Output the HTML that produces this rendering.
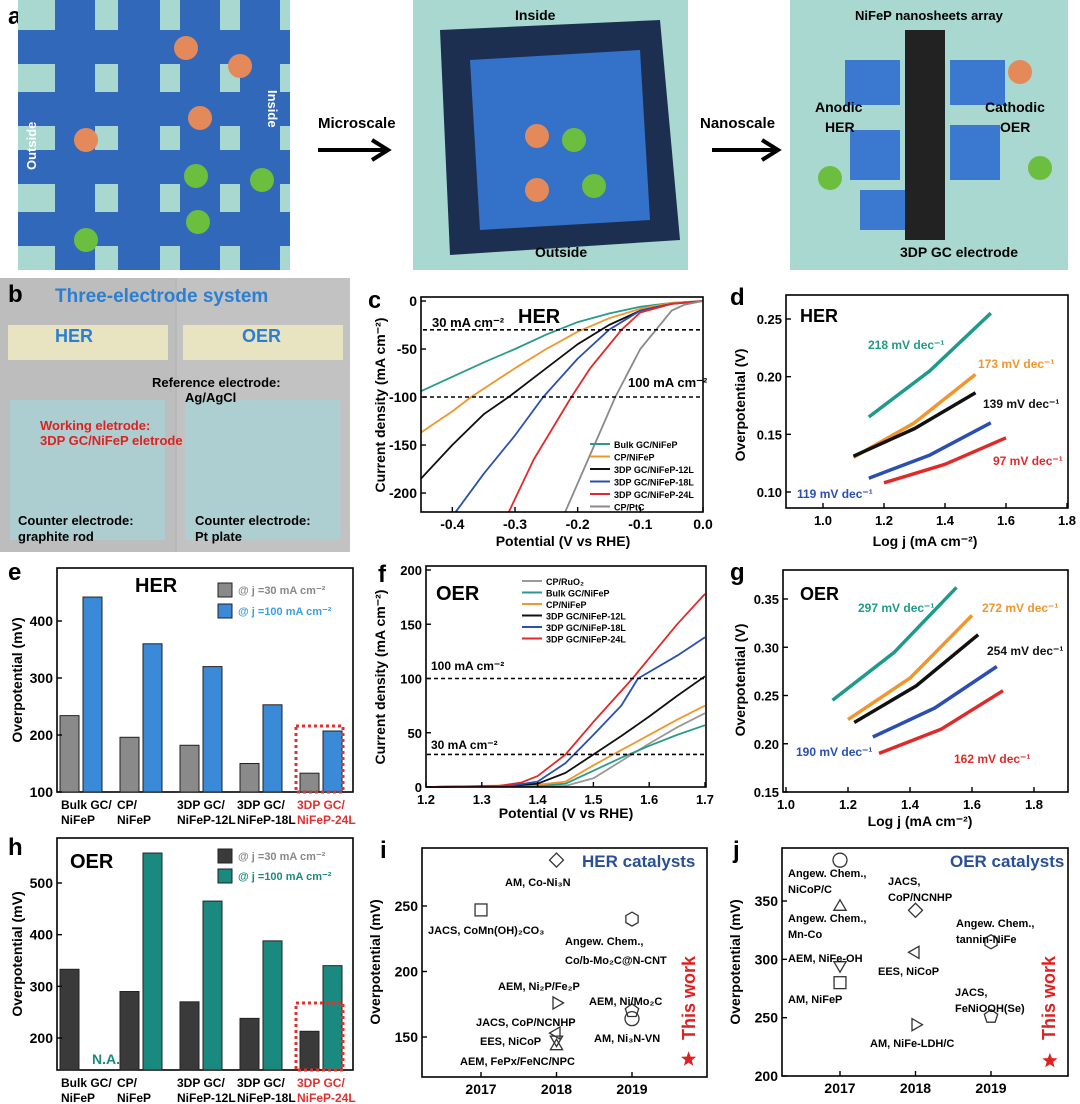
<!DOCTYPE html>
<html><head><meta charset="utf-8"><style>
html,body{margin:0;padding:0;background:#fff;}
svg{display:block;font-family:"Liberation Sans",sans-serif;font-weight:bold;}
</style></head><body>
<svg id="fig" width="1080" height="1104" viewBox="0 0 1080 1104" xmlns="http://www.w3.org/2000/svg">
<g>
 <text x="8" y="24" font-size="24">a</text>
 <rect x="18" y="0" width="272" height="270" fill="#a8d8cf"/>
 <g fill="#2b63b8" opacity="0.95">
  <rect x="55" y="0" width="40" height="270"/><rect x="118" y="0" width="42" height="270"/><rect x="180" y="0" width="40" height="270"/><rect x="240" y="0" width="40" height="270"/>
  <rect x="18" y="30" width="272" height="34"/><rect x="18" y="92" width="272" height="34"/><rect x="18" y="150" width="272" height="34"/><rect x="18" y="212" width="272" height="34"/>
 </g>
 <g fill="#e48a5a"><circle cx="186" cy="48" r="12"/><circle cx="240" cy="66" r="12"/><circle cx="200" cy="118" r="12"/><circle cx="86" cy="140" r="12"/></g>
 <g fill="#6cbf3e"><circle cx="196" cy="176" r="12"/><circle cx="262" cy="180" r="12"/><circle cx="198" cy="222" r="12"/><circle cx="86" cy="240" r="12"/></g>
 <text x="36" y="170" font-size="13" fill="#fff" transform="rotate(-90 36 170)">Outside</text>
 <text x="268" y="90" font-size="13" fill="#fff" transform="rotate(90 268 90)">Inside</text>
 <text x="318" y="128" font-size="15">Microscale</text>
 <path d="M318 150 H385 M372 140 L388 150 L372 160" stroke="#000" stroke-width="4" fill="none"/>
 <rect x="413" y="0" width="275" height="270" fill="#a8d8cf"/>
 <polygon points="440,30 660,20 680,240 450,255" fill="#1c2f50"/>
 <polygon points="470,60 640,50 650,220 480,230" fill="#3471c9"/>
 <text x="515" y="20" font-size="14">Inside</text><text x="535" y="257" font-size="14">Outside</text>
 <circle cx="537" cy="136" r="12" fill="#e48a5a"/><circle cx="537" cy="190" r="12" fill="#e48a5a"/><circle cx="574" cy="140" r="12" fill="#6cbf3e"/><circle cx="594" cy="186" r="12" fill="#6cbf3e"/>
 <text x="700" y="128" font-size="15">Nanoscale</text>
 <path d="M712 150 H775 M762 140 L778 150 L762 160" stroke="#000" stroke-width="4" fill="none"/>
 <rect x="790" y="0" width="278" height="270" fill="#a8d8cf"/>
 <rect x="905" y="30" width="40" height="210" fill="#222"/>
 <g fill="#3b78cf"><rect x="845" y="60" width="55" height="45"/><rect x="950" y="60" width="55" height="45"/><rect x="850" y="130" width="50" height="50"/><rect x="950" y="125" width="50" height="55"/><rect x="860" y="190" width="45" height="40"/></g>
 <text x="855" y="20" font-size="13">NiFeP nanosheets array</text>
 <text x="815" y="112" font-size="14">Anodic</text><text x="825" y="132" font-size="14">HER</text>
 <text x="985" y="112" font-size="14">Cathodic</text><text x="1000" y="132" font-size="14">OER</text>
 <circle cx="1020" cy="72" r="12" fill="#e48a5a"/><circle cx="830" cy="178" r="12" fill="#6cbf3e"/><circle cx="1040" cy="168" r="12" fill="#6cbf3e"/>
 <text x="900" y="257" font-size="14">3DP GC electrode</text>
</g>
<g>
 <rect x="0" y="278" width="350" height="274" fill="#b8b8b8"/>
 <rect x="0" y="278" width="175" height="274" fill="#bdbdbd"/><rect x="177" y="278" width="173" height="274" fill="#c2c2c2"/>
 <rect x="8" y="325" width="160" height="35" fill="#e8e3c0"/><rect x="183" y="325" width="160" height="35" fill="#e8e3c0"/>
 <rect x="10" y="400" width="155" height="140" fill="#a8d2d4" opacity="0.8"/><rect x="185" y="400" width="155" height="140" fill="#a8d2d4" opacity="0.8"/>
 <text x="8" y="302" font-size="24" fill="#000">b</text>
 <text x="55" y="302" font-size="19" fill="#2a7fd2">Three-electrode system</text>
 <text x="55" y="342" font-size="18" fill="#2a7fd2">HER</text><text x="242" y="342" font-size="18" fill="#2a7fd2">OER</text>
 <text x="152" y="387" font-size="13">Reference electrode:</text><text x="185" y="402" font-size="13">Ag/AgCl</text>
 <text x="40" y="430" font-size="13" fill="#e02020">Working eletrode:</text><text x="40" y="445" font-size="13" fill="#e02020">3DP GC/NiFeP eletrode</text>
 <text x="18" y="525" font-size="13">Counter electrode:</text><text x="18" y="541" font-size="13">graphite rod</text>
 <text x="195" y="525" font-size="13">Counter electrode:</text><text x="195" y="541" font-size="13">Pt plate</text>
</g>
<g id="charts"></g>
</svg>
<script>
// ---------- data ----------
const herCSeries = ['Bulk GC/NiFeP','CP/NiFeP','3DP GC/NiFeP-12L','3DP GC/NiFeP-18L','3DP GC/NiFeP-24L','CP/PtC'];
const herCColors = ['#2a9a8a','#f0962d','#111111','#2a4fb0','#e02a2a','#8a8a8a'];
const herCPot = [
 [-0.45,-0.4,-0.35,-0.3,-0.25,-0.2,-0.15,-0.1,-0.05,0],
 [-0.45,-0.4,-0.37,-0.3,-0.25,-0.2,-0.15,-0.1,-0.05,0],
 [-0.45,-0.4,-0.35,-0.31,-0.25,-0.2,-0.15,-0.1,-0.05,0],
 [-0.395,-0.35,-0.3,-0.255,-0.2,-0.15,-0.1,-0.05,0],
 [-0.31,-0.27,-0.21,-0.18,-0.155,-0.13,-0.1,-0.05,0],
 [-0.22,-0.18,-0.14,-0.1,-0.075,-0.05,-0.03,0]];
const herCCur = [
 [-94,-79,-64,-50,-35,-22,-13,-6,-2,0],
 [-137,-115,-100,-70,-50,-32,-18,-8,-2,0],
 [-185,-150,-118,-100,-70,-45,-25,-10,-3,0],
 [-220,-180,-140,-100,-60,-30,-10,-3,0],
 [-220,-165,-100,-70,-50,-30,-12,-3,0],
 [-220,-160,-100,-50,-30,-10,-4,0]];
const herTafelLabels = ['218 mV dec⁻¹','173 mV dec⁻¹','139 mV dec⁻¹','119 mV dec⁻¹','97 mV dec⁻¹'];
const herTafelX = [[1.15,1.35,1.55],[1.1,1.3,1.5],[1.1,1.3,1.5],[1.15,1.35,1.55],[1.2,1.4,1.6]];
const herTafelY = [[0.165,0.205,0.255],[0.13,0.16,0.202],[0.131,0.155,0.186],[0.112,0.132,0.16],[0.108,0.124,0.147]];
const tafelColors = ['#1f9a8a','#f0962d','#111111','#2a4fb0','#e02a2a'];
const barCats = [['Bulk GC/','NiFeP'],['CP/','NiFeP'],['3DP GC/','NiFeP-12L'],['3DP GC/','NiFeP-18L'],['3DP GC/','NiFeP-24L']];
const herBar30 = [234,196,182,150,133];
const herBar100 = [442,360,320,253,207];
const oerBar30 = [333,290,270,238,213];
const oerBar100 = [null,558,465,388,340];
const oerFSeries = ['CP/RuO₂','Bulk GC/NiFeP','CP/NiFeP','3DP GC/NiFeP-12L','3DP GC/NiFeP-18L','3DP GC/NiFeP-24L'];
const oerFColors = ['#999999','#2a9a8a','#f0962d','#111111','#2a4fb0','#e02a2a'];
const oerFPot = [
 [1.2,1.4,1.45,1.5,1.55,1.6,1.65,1.7],
 [1.2,1.4,1.45,1.5,1.55,1.6,1.65,1.7],
 [1.2,1.4,1.45,1.5,1.55,1.6,1.65,1.7],
 [1.2,1.35,1.4,1.45,1.5,1.55,1.6,1.65,1.7],
 [1.2,1.35,1.4,1.45,1.5,1.55,1.58,1.65,1.7],
 [1.2,1.33,1.37,1.4,1.45,1.5,1.57,1.65,1.7]];
const oerFCur = [
 [0,0.5,1,8,24,40,55,68],
 [0,1,3,15,27,38,48,57],
 [0,2,5,20,34,48,62,75],
 [0,1,3,13,30,47,65,84,102],
 [0,1,5,22,48,75,100,121,138],
 [0,1,4,10,30,60,100,150,178]];
const oerTafelLabels = ['297 mV dec⁻¹','272 mV dec⁻¹','254 mV dec⁻¹','190 mV dec⁻¹','162 mV dec⁻¹'];
const oerTafelX = [[1.15,1.35,1.55],[1.2,1.4,1.6],[1.22,1.42,1.62],[1.28,1.48,1.68],[1.3,1.5,1.7]];
const oerTafelY = [[0.245,0.295,0.362],[0.225,0.268,0.333],[0.222,0.26,0.313],[0.207,0.237,0.28],[0.19,0.215,0.255]];
const herRefYear = [2018,2017,2019,2018,2019,2019,2018,2018,2018];
const herRefEta = [285,247,240,176,170,164,153,148,143];
const herRefShape = ['diamond','square','hexagon','right','pentagon','circle','left','down','up'];
const oerRefYear = [2017,2017,2017,2017,2018,2018,2018,2019,2019];
const oerRefEta = [385,345,295,280,342,306,244,315,251];
const oerRefShape = ['circle','up','down','square','diamond','left','right','hexagon','pentagon'];
const herThisWork = 133, oerThisWork = 213;

// ---------- helpers ----------
const NS='http://www.w3.org/2000/svg';
const root=document.getElementById('charts');
function mk(tag,attrs,parent,txt){const e=document.createElementNS(NS,tag);for(const k in attrs)e.setAttribute(k,attrs[k]);if(txt!==undefined)e.textContent=txt;(parent||root).appendChild(e);return e;}
function lin(d0,d1,r0,r1){return v=>r0+(v-d0)*(r1-r0)/(d1-d0);}
function frame(x0,y0,x1,y1,name){const r=mk('rect',{x:x0,y:y0,width:x1-x0,height:y1-y0,fill:'none',stroke:'#000','stroke-width':1.6});

}
function xticks(sx,vals,labels,y,fs){vals.forEach((v,i)=>{mk('line',{x1:sx(v),x2:sx(v),y1:y,y2:y-5,stroke:'#000','stroke-width':1.4});
const t=mk('text',{x:sx(v),y:y+17,'font-size':fs||14,'text-anchor':'middle'},root,labels[i]);

});}
function yticks(sy,vals,labels,x,fs){vals.forEach((v,i)=>{mk('line',{x1:x,x2:x+5,y1:sy(v),y2:sy(v),stroke:'#000','stroke-width':1.4});
const t=mk('text',{x:x-4,y:sy(v)+5,'font-size':fs||14,'text-anchor':'end'},root,labels[i]);

});}
function ytitle(x,yc,txt,name){const t=mk('text',{x:x,y:yc,'font-size':14,'text-anchor':'middle',transform:`rotate(-90 ${x} ${yc})`},root,txt);

}
function xtitle(xc,y,txt,name){const t=mk('text',{x:xc,y:y,'font-size':14,'text-anchor':'middle'},root,txt);

}
function label(x,y,txt,fs,fill,name){const t=mk('text',{x:x,y:y,'font-size':fs,fill:fill||'#000'},root,txt);

return t;}
function poly(xs,ys,sx,sy,color,w,name){const pts=xs.map((x,i)=>sx(x).toFixed(1)+','+sy(ys[i]).toFixed(1)).join(' ');
const p=mk('polyline',{points:pts,fill:'none',stroke:color,'stroke-width':w||1.8,'stroke-linejoin':'round'});

}
function dash(x0,x1,y){mk('line',{x1:x0,x2:x1,y1:y,y2:y,stroke:'#000','stroke-width':1.6,'stroke-dasharray':'4,3'});}
function marker(shape,cx,cy,r){const a={fill:'none',stroke:'#333','stroke-width':1.3};let e;
const pg=(n,rot)=>{let p=[];for(let k=0;k<n;k++){const t=rot+k*2*Math.PI/n;p.push((cx+r*Math.cos(t)).toFixed(1)+','+(cy+r*Math.sin(t)).toFixed(1));}return p.join(' ');};
if(shape==='circle')e=mk('circle',Object.assign({cx,cy,r},a));
else if(shape==='square')e=mk('rect',Object.assign({x:cx-r*0.85,y:cy-r*0.85,width:r*1.7,height:r*1.7},a));
else if(shape==='diamond')e=mk('polygon',Object.assign({points:pg(4,0)},a));
else if(shape==='hexagon')e=mk('polygon',Object.assign({points:pg(6,Math.PI/6)},a));
else if(shape==='pentagon')e=mk('polygon',Object.assign({points:pg(5,-Math.PI/2)},a));
else if(shape==='up')e=mk('polygon',Object.assign({points:pg(3,-Math.PI/2)},a));
else if(shape==='down')e=mk('polygon',Object.assign({points:pg(3,Math.PI/2)},a));
else if(shape==='left')e=mk('polygon',Object.assign({points:pg(3,Math.PI)},a));
else e=mk('polygon',Object.assign({points:pg(3,0)},a));

}
function star(cx,cy,r){let p=[];for(let k=0;k<10;k++){const rr=k%2?r*0.42:r;const t=-Math.PI/2+k*Math.PI/5;p.push((cx+rr*Math.cos(t)).toFixed(1)+','+(cy+rr*Math.sin(t)).toFixed(1));}
const e=mk('polygon',{points:p.join(' '),fill:'#e02020'});

}

// ---------- panel c ----------
{const sx=lin(-0.45,0,421,703),sy=lin(0,-200,301,493);
label(368,308,'c',24,'#000','panel-label-c');
herCSeries.forEach((s,i)=>poly(herCPot[i],herCCur[i],sx,sy,herCColors[i],1.8,'her-lsv-curve'));
mk('rect',{x:380,y:513,width:340,height:20,fill:'#fff'});mk('rect',{x:380,y:280,width:40,height:260,fill:'#fff'});
dash(423,703,sy(-30));dash(423,703,sy(-100));
frame(421,297,703,512,'plot-frame-c');
xticks(sx,[-0.4,-0.3,-0.2,-0.1,0],['-0.4','-0.3','-0.2','-0.1','0.0'],512);
yticks(sy,[0,-50,-100,-150,-200],['0','-50','-100','-150','-200'],421);
label(432,327,'30 mA cm⁻²',13,'#000','threshold-30-label');label(518,323,'HER',20,'#000','chart-title-c');
label(628,387,'100 mA cm⁻²',13,'#000','threshold-100-label');
xtitle(563,546,'Potential (V vs RHE)','x-axis-title-c');ytitle(385,405,'Current density (mA cm⁻²)','y-axis-title-c');
herCSeries.forEach((s,i)=>{const y=444+i*12.5;mk('line',{x1:590,x2:610,y1:y,y2:y,stroke:herCColors[i],'stroke-width':2});
label(614,y+4,s,9,'#000','legend-entry-c');});}

// ---------- panel d ----------
{const sx=lin(1.0,1.8,823,1067),sy=lin(0.25,0.10,319,492);
label(730,305,'d',24,'#000','panel-label-d');
frame(786,295,1068,508,'plot-frame-d');
herTafelX.forEach((xs,i)=>poly(xs,herTafelY[i],sx,sy,tafelColors[i],3.5,'her-tafel-line'));
xticks(sx,[1.0,1.2,1.4,1.6,1.8],['1.0','1.2','1.4','1.6','1.8'],508,13);
yticks(sy,[0.25,0.20,0.15,0.10],['0.25','0.20','0.15','0.10'],786,13);
label(800,322,'HER',18,'#000','chart-title-d');
const pos=[[868,349],[978,368],[983,408],[797,498],[993,465]];
herTafelLabels.forEach((t,i)=>label(pos[i][0],pos[i][1],t,12,tafelColors[i],'tafel-slope-label'));
xtitle(925,546,'Log j (mA cm⁻²)','x-axis-title-d');ytitle(745,405,'Overpotential (V)','y-axis-title-d');}

// ---------- bar charts ----------
function bars(yTop,yBot,sy,d30,d100,c30,c100,name,ticks,letter){
 frame(57,yTop,353,yBot,'plot-frame-'+letter);
 d30.forEach((v,i)=>{const x=60+i*60;const r=mk('rect',{x:x,y:sy(v),width:19,height:yBot-sy(v),fill:c30,stroke:'#222','stroke-width':1});
 
 });
 d100.forEach((v,i)=>{if(v===null)return;const x=83+i*60;const r=mk('rect',{x:x,y:sy(v),width:19,height:yBot-sy(v),fill:c100,stroke:'#222','stroke-width':1});
 
 });
 yticks(sy,ticks,ticks.map(String),57,14);
 barCats.forEach((c,i)=>{const col=i===4?'#e03030':'#000';label(61+i*60+(i===0?0:-4),yBot+17,c[0],12,col,'x-category-label');label(61+i*60+(i===0?0:-4),yBot+32,c[1],12,col,'x-category-label');});
 ytitle(22,(yTop+yBot)/2,'Overpotential (mV)','y-axis-title-'+letter);
}
{const sy=lin(100,400,792,621);
label(8,580,'e',24,'#000','panel-label-e');
bars(568,792,sy,herBar30,herBar100,'#8a8a8a','#3a8ad8','her',[100,200,300,400],'e');
mk('rect',{x:296,y:726,width:47,height:66,fill:'none',stroke:'#e03030','stroke-width':3,'stroke-dasharray':'3,3'});
label(135,592,'HER',20,'#000','chart-title-e');
mk('rect',{x:218,y:583,width:14,height:14,fill:'#8a8a8a',stroke:'#222'});mk('rect',{x:218,y:604,width:14,height:14,fill:'#3a8ad8',stroke:'#222'});
label(238,594,'@ j =30 mA cm⁻²',11,'#888','legend-entry-e');label(238,615,'@ j =100 mA cm⁻²',11,'#3aa0e0','legend-entry-e');}
{const sy=lin(200,500,1038,883);
label(8,855,'h',24,'#000','panel-label-h');
bars(838,1070,sy,oerBar30,oerBar100,'#3a3a3a','#1a8a80','oer',[200,300,400,500],'h');
mk('rect',{x:296,y:1003,width:47,height:67,fill:'none',stroke:'#e03030','stroke-width':3,'stroke-dasharray':'3,3'});
label(70,868,'OER',20,'#000','chart-title-h');label(92,1064,'N.A.',14,'#1a8a80','na-label');
mk('rect',{x:218,y:849,width:14,height:14,fill:'#3a3a3a',stroke:'#222'});mk('rect',{x:218,y:869,width:14,height:14,fill:'#1a8a80',stroke:'#222'});
label(238,860,'@ j =30 mA cm⁻²',11,'#888','legend-entry-h');label(238,880,'@ j =100 mA cm⁻²',11,'#1a8a80','legend-entry-h');}

// ---------- panel f ----------
{const sx=lin(1.2,1.7,426,705),sy=lin(0,200,787,570);
label(378,582,'f',24,'#000','panel-label-f');
oerFSeries.forEach((s,i)=>poly(oerFPot[i],oerFCur[i],sx,sy,oerFColors[i],1.8,'oer-lsv-curve'));
dash(427,705,sy(100));dash(427,705,sy(30));
frame(426,566,706,787,'plot-frame-f');
xticks(sx,[1.2,1.3,1.4,1.5,1.6,1.7],['1.2','1.3','1.4','1.5','1.6','1.7'],787,13);
yticks(sy,[0,50,100,150,200],['0','50','100','150','200'],426,13);
label(436,600,'OER',20,'#000','chart-title-f');
label(431,749,'30 mA cm⁻²',12,'#000','threshold-30-label-f');label(431,670,'100 mA cm⁻²',12,'#000','threshold-100-label-f');
xtitle(566,818,'Potential (V vs RHE)','x-axis-title-f');ytitle(385,677,'Current density (mA cm⁻²)','y-axis-title-f');
oerFSeries.forEach((s,i)=>{const y=581+i*11.5;mk('line',{x1:522,x2:542,y1:y,y2:y,stroke:oerFColors[i],'stroke-width':2});
label(546,y+4,s,9,'#000','legend-entry-f');});}

// ---------- panel g ----------
{const sx=lin(1.0,1.8,786,1034),sy=lin(0.35,0.15,599,792);
label(730,580,'g',24,'#000','panel-label-g');
frame(783,570,1068,792,'plot-frame-g');
oerTafelX.forEach((xs,i)=>poly(xs,oerTafelY[i],sx,sy,tafelColors[i],3.5,'oer-tafel-line'));
xticks(sx,[1.0,1.2,1.4,1.6,1.8],['1.0','1.2','1.4','1.6','1.8'],792,13);
yticks(sy,[0.35,0.30,0.25,0.20,0.15],['0.35','0.30','0.25','0.20','0.15'],783,13);
label(800,600,'OER',18,'#000','chart-title-g');
const pos=[[858,612],[982,612],[987,655],[796,756],[954,763]];
oerTafelLabels.forEach((t,i)=>label(pos[i][0],pos[i][1],t,12,tafelColors[i],'tafel-slope-label-g'));
xtitle(920,826,'Log j (mA cm⁻²)','x-axis-title-g');ytitle(745,680,'Overpotential (V)','y-axis-title-g');}

// ---------- panel i ----------
{const sx=lin(2017,2019,481,632),sy=lin(250,150,906,1037);
label(380,858,'i',24,'#000','panel-label-i');
frame(422,848,707,1077,'plot-frame-i');
xticks(sx,[2017,2018,2019],['2017','2018','2019'],1077,14);
yticks(sy,[250,200,150],['250','200','150'],422,14);
herRefYear.forEach((y,i)=>marker(herRefShape[i],sx(y),sy(herRefEta[i]),7));
star(sx(2019.75),sy(herThisWork),8);
label(582,867,'HER catalysts',17,'#2a4f9a','chart-title-i');
const L=[[505,886,'AM, Co-Ni₃N'],[428,934,'JACS, CoMn(OH)₂CO₃'],[565,945,'Angew. Chem.,'],[565,964,'Co/b-Mo₂C@N-CNT'],[498,990,'AEM, Ni₂P/Fe₂P'],[476,1026,'JACS, CoP/NCNHP'],[480,1045,'EES, NiCoP'],[460,1065,'AEM, FePx/FeNC/NPC'],[589,1005,'AEM, Ni/Mo₂C'],[594,1042,'AM, Ni₃N-VN']];
L.forEach(l=>label(l[0],l[1],l[2],11,'#000','catalyst-label'));
const t=label(695,1040,'This work',18,'#e02020','this-work-label');t.setAttribute('transform','rotate(-90 695 1040)');
ytitle(380,962,'Overpotential (mV)','y-axis-title-i');}

// ---------- panel j ----------
{const sx=lin(2017,2019,840,991),sy=lin(350,200,901,1076);
label(733,858,'j',24,'#000','panel-label-j');
frame(782,848,1068,1076,'plot-frame-j');
xticks(sx,[2017,2018,2019],['2017','2018','2019'],1076,14);
yticks(sy,[350,300,250,200],['350','300','250','200'],782,14);
oerRefYear.forEach((y,i)=>marker(oerRefShape[i],sx(y),sy(oerRefEta[i]),7));
star(sx(2019.78),sy(oerThisWork),8);
label(950,867,'OER catalysts',17,'#2a4f9a','chart-title-j');
const L=[[788,877,'Angew. Chem.,'],[788,893,'NiCoP/C'],[788,922,'Angew. Chem.,'],[788,938,'Mn-Co'],[788,962,'AEM, NiFe-OH'],[788,1003,'AM, NiFeP'],[888,885,'JACS,'],[888,901,'CoP/NCNHP'],[956,927,'Angew. Chem.,'],[956,943,'tannin-NiFe'],[878,975,'EES, NiCoP'],[870,1047,'AM, NiFe-LDH/C'],[955,996,'JACS,'],[955,1012,'FeNiOOH(Se)']];
L.forEach(l=>label(l[0],l[1],l[2],11,'#000','catalyst-label'));
const t=label(1055,1040,'This work',18,'#e02020','this-work-label');t.setAttribute('transform','rotate(-90 1055 1040)');
ytitle(740,962,'Overpotential (mV)','y-axis-title-j');}
</script>
</body></html>
